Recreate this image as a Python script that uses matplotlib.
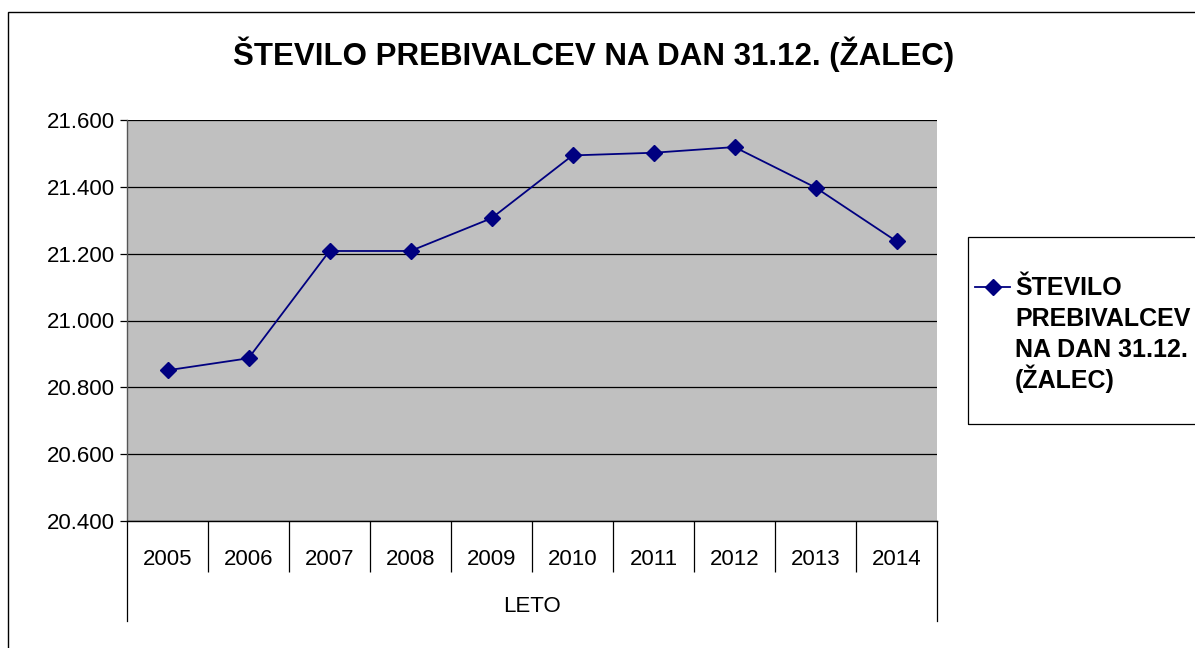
import matplotlib
matplotlib.use('Agg')
import matplotlib.pyplot as plt
from matplotlib.lines import Line2D
from matplotlib.patches import Rectangle
from matplotlib.ticker import FuncFormatter, FixedLocator
import numpy as np

years = ['2005', '2006', '2007', '2008', '2009', '2010', '2011', '2012', '2013', '2014']
population = [20851, 20887, 21208, 21208, 21306, 21494, 21502, 21519, 21398, 21237]
series_lines = ['ŠTEVILO', 'PREBIVALCEV', 'NA DAN 31.12.', '(ŽALEC)']
title = 'ŠTEVILO PREBIVALCEV NA DAN 31.12. (ŽALEC)'
x_group = 'LETO'

plt.rcParams['font.family'] = ['Liberation Sans', 'DejaVu Sans']

W, H = 1195, 648
fig = plt.figure(figsize=(W / 100, H / 100), dpi=100)

# outer chart border (runs past right/bottom edge like the original)
fig.patches.append(Rectangle((8 / W, -0.1), 1.2, 1 - 12 / H + 0.1, transform=fig.transFigure,
                             fill=False, edgecolor='black', linewidth=1.0))

ax = fig.add_axes([127 / W, 1 - 521 / H, (937 - 127) / W, (521 - 120) / H])
ax.set_facecolor('#C0C0C0')

x = np.arange(len(years))
ax.plot(x, population, color='#000080', marker='D', markersize=8, linewidth=1.3, zorder=3)

ax.set_xlim(-0.5, len(years) - 0.5)
ax.set_ylim(20400, 21600)
ax.set_yticks(np.arange(20400, 21601, 200))
ax.yaxis.set_major_formatter(FuncFormatter(lambda v, p: f'{int(v):,}'.replace(',', '.')))
ax.yaxis.grid(True, color='black', linewidth=0.9)
ax.set_axisbelow(True)
ax.tick_params(axis='y', direction='out', length=5, width=0.9, labelsize=16, pad=4)

ax.set_xticks(x)
ax.set_xticklabels(years)
ax.tick_params(axis='x', which='major', length=0, labelsize=16, pad=20)
ax.xaxis.set_minor_locator(FixedLocator(np.arange(0.5, len(years) - 1, 1)))
ax.tick_params(axis='x', which='minor', direction='out', length=36.5, width=0.9)

for s in ['top', 'right']:
    ax.spines[s].set_visible(False)
ax.spines['bottom'].set_linewidth(1.0)
ax.spines['left'].set_linewidth(1.0)
ax.spines['left'].set_color('#555555')

# outer category level boundaries
trans = ax.get_xaxis_transform()
for xb in (-0.5, len(years) - 0.5):
    ax.add_line(Line2D([xb, xb], [0, -100 / 401], transform=trans, color='black',
                       linewidth=0.9, clip_on=False))
ax.text((len(years) - 1) / 2, -86 / 401, x_group, transform=trans, ha='center', va='center',
        fontsize=16)

fig.text(594 / W, 1 - 65 / H, title, ha='center', va='baseline', fontsize=22.5,
         fontweight='bold')

# legend box drawn by hand (it is clipped by the right edge in the original)
fig.patches.append(Rectangle((968 / W, 1 - 424 / H), 0.2, 187 / H, transform=fig.transFigure,
                             fill=False, edgecolor='black', linewidth=0.9))
fig.lines.append(Line2D([975 / W, 1010 / W], [1 - 287 / H] * 2, transform=fig.transFigure,
                        color='#000080', linewidth=1.3))
fig.lines.append(Line2D([992.5 / W], [1 - 287 / H], transform=fig.transFigure,
                        color='#000080', marker='D', markersize=8, linestyle='none'))
for i, txt in enumerate(series_lines):
    fig.text(1015 / W, 1 - (295 + 31 * i) / H, txt, ha='left', va='baseline', fontsize=18,
             fontweight='bold')

fig.savefig('out.png', dpi=100)
